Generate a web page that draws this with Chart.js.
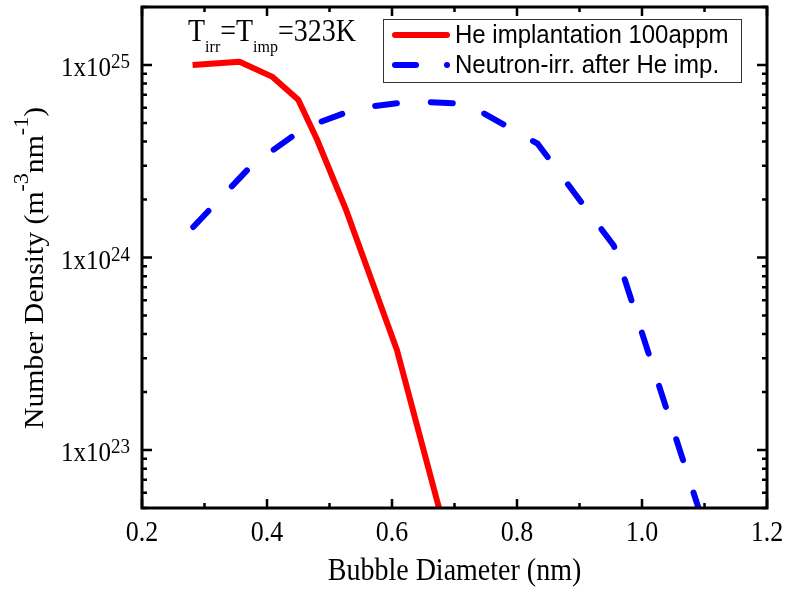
<!DOCTYPE html>
<html>
<head>
<meta charset="utf-8">
<script src="https://cdn.jsdelivr.net/npm/chart.js@4.4.1/dist/chart.umd.min.js"></script>
<style>
  body { margin: 0; background: #fff; }
  #wrap { width: 785px; height: 590px; }
</style>
</head>
<body>
<div id="wrap"><canvas id="chart" width="785" height="590"></canvas></div>
<script>
// data
const heDiameter = [0.281, 0.356, 0.408, 0.450, 0.480, 0.527, 0.608, 0.690];
const heDensity = [1.00e25, 1.04e25, 8.7e24, 6.6e24, 4.1e24, 1.75e24, 3.3e23, 3.3e22];

const nDiameter = [0.282, 0.376, 0.460, 0.546, 0.632, 0.720, 0.833, 0.955, 1.100];
const nDensity = [1.44e24, 3.02e24, 4.72e24, 5.97e24, 6.47e24, 6.28e24, 3.9e24, 1.15e24, 4.0e22];

const seriesLabels = ['He implantation 100appm', 'Neutron-irr. after He imp.'];

const xMajorTicks = [0.2, 0.4, 0.6, 0.8, 1.0, 1.2];
const xTickLabels = ['0.2', '0.4', '0.6', '0.8', '1.0', '1.2'];
const xMinorTicks = [0.3, 0.5, 0.7, 0.9, 1.1];
const yMajorTicks = [1e23, 1e24, 1e25];
const yTickExponents = ['23', '24', '25'];

const X_MIN = 0.2, X_MAX = 1.2;
const Y_MIN = 5e22, Y_MAX = 2e25;

const SERIF = "'Liberation Serif', 'Times New Roman', serif";
const SANS = "'Liberation Sans', Arial, sans-serif";
const SY = 1.1; // the original figure is a bit stretched vertically

function toPoints(xs, ys) {
  return xs.map((x, i) => ({ x: x, y: ys[i] }));
}

function yMinorTicks() {
  const out = [];
  for (let n = 22; n <= 25; n++) {
    for (let k = 2; k <= 9; k++) {
      const v = k * Math.pow(10, n);
      if (v >= Y_MIN && v <= Y_MAX) out.push(v);
    }
  }
  return out;
}

// draw text with the vertical stretch, baseline at (x, y)
function txt(ctx, s, x, y, font, align) {
  ctx.save();
  ctx.translate(x, y);
  ctx.scale(1, SY);
  ctx.font = font;
  ctx.textAlign = align || 'left';
  ctx.textBaseline = 'alphabetic';
  ctx.fillText(s, 0, 0);
  ctx.restore();
}

function measure(ctx, s, font) {
  ctx.font = font;
  return ctx.measureText(s).width;
}

const axesPlugin = {
  id: 'originAxes',
  afterDraw(chart) {
    const ctx = chart.ctx;
    const xs = chart.scales.x, ys = chart.scales.y;
    const a = chart.chartArea;
    ctx.save();
    ctx.fillStyle = '#000';
    ctx.strokeStyle = '#000';

    // ticks (inward, on all four sides)
    ctx.lineWidth = 2.5;
    ctx.beginPath();
    xMajorTicks.forEach(v => {
      const px = xs.getPixelForValue(v);
      ctx.moveTo(px, a.bottom); ctx.lineTo(px, a.bottom - 9);
      ctx.moveTo(px, a.top); ctx.lineTo(px, a.top + 9);
    });
    xMinorTicks.forEach(v => {
      const px = xs.getPixelForValue(v);
      ctx.moveTo(px, a.bottom); ctx.lineTo(px, a.bottom - 5);
      ctx.moveTo(px, a.top); ctx.lineTo(px, a.top + 5);
    });
    yMajorTicks.forEach(v => {
      const py = ys.getPixelForValue(v);
      ctx.moveTo(a.left, py); ctx.lineTo(a.left + 10, py);
      ctx.moveTo(a.right, py); ctx.lineTo(a.right - 10, py);
    });
    yMinorTicks().forEach(v => {
      const py = ys.getPixelForValue(v);
      ctx.moveTo(a.left, py); ctx.lineTo(a.left + 5, py);
      ctx.moveTo(a.right, py); ctx.lineTo(a.right - 5, py);
    });
    ctx.stroke();

    // frame
    ctx.lineWidth = 3;
    ctx.strokeRect(a.left, a.top, a.right - a.left, a.bottom - a.top);

    // x tick labels
    const tickFont = '26px ' + SERIF;
    xMajorTicks.forEach((v, i) => {
      txt(ctx, xTickLabels[i], xs.getPixelForValue(v), a.bottom + 33, tickFont, 'center');
    });

    // y tick labels 1x10^n
    const mainFont = '25px ' + SERIF, supFont = '19px ' + SERIF;
    yMajorTicks.forEach((v, i) => {
      const py = ys.getPixelForValue(v);
      const w1 = measure(ctx, '1x10', mainFont);
      const w2 = measure(ctx, yTickExponents[i], supFont);
      const x0 = a.left - 12 - w1 - w2;
      txt(ctx, '1x10', x0, py + 11, mainFont);
      txt(ctx, yTickExponents[i], x0 + w1, py + 3, supFont);
    });

    // x title
    txt(ctx, 'Bubble Diameter (nm)', (a.left + a.right) / 2, 580, '28px ' + SERIF, 'center');

    // y title, rotated, with superscripts
    const tf = '27px ' + SERIF, sf = '20px ' + SERIF;
    const runs = [
      ['Number Density (m', tf, 0], ['-3', sf, -15],
      ['nm', tf, 0], ['-1', sf, -15], [')', tf, 0]
    ];
    let total = 0;
    runs.forEach(r => { r.w = measure(ctx, r[0], r[1]); total += r.w; });
    ctx.save();
    ctx.translate(43, 268);
    ctx.rotate(-Math.PI / 2);
    ctx.scale(SY, 1);
    ctx.textBaseline = 'alphabetic';
    ctx.textAlign = 'left';
    let cx = -total / 2;
    runs.forEach(r => {
      ctx.font = r[1];
      ctx.fillText(r[0], cx, r[2]);
      cx += r.w;
    });
    ctx.restore();

    // annotation T_irr = T_imp = 323K
    const af = '28px ' + SERIF, bf = '16px ' + SERIF;
    const parts = [
      ['T', af, 0], ['irr', bf, 11], ['=T', af, 0], ['imp', bf, 11], ['=323K', af, 0]
    ];
    let ax = 188;
    parts.forEach(p => {
      txt(ctx, p[0], ax, 41 + p[2], p[1]);
      ax += measure(ctx, p[0], p[1]);
    });

    // legend
    const ds = chart.data.datasets;
    ctx.fillStyle = '#fff';
    ctx.fillRect(383, 19, 358, 63);
    ctx.lineWidth = 1;
    ctx.strokeStyle = '#333';
    ctx.strokeRect(383.5, 19.5, 358, 63);
    ctx.lineCap = 'round';
    ctx.lineWidth = 6;
    ctx.strokeStyle = ds[0].borderColor;
    ctx.beginPath(); ctx.moveTo(395, 35); ctx.lineTo(447, 35); ctx.stroke();
    ctx.strokeStyle = ds[1].borderColor;
    ctx.beginPath(); ctx.moveTo(395, 65); ctx.lineTo(416, 65); ctx.stroke();
    ctx.fillStyle = ds[1].borderColor;
    ctx.beginPath(); ctx.arc(447, 65, 3, 0, Math.PI * 2); ctx.fill();
    ctx.fillStyle = '#000';
    txt(ctx, ds[0].label, 455, 43, '24px ' + SANS);
    txt(ctx, ds[1].label, 455, 73, '24px ' + SANS);

    ctx.restore();
  }
};

new Chart(document.getElementById('chart'), {
  type: 'line',
  data: {
    datasets: [{
      label: seriesLabels[0],
      data: toPoints(heDiameter, heDensity),
      borderColor: 'rgb(255, 0, 0)',
      borderWidth: 6,
      borderJoinStyle: 'round',
      pointRadius: 0,
      fill: false,
      tension: 0
    }, {
      label: seriesLabels[1],
      data: toPoints(nDiameter, nDensity),
      borderColor: 'rgb(0, 0, 255)',
      borderWidth: 6,
      borderDash: [22, 34],
      borderCapStyle: 'round',
      borderJoinStyle: 'round',
      pointRadius: 0,
      fill: false,
      tension: 0
    }]
  },
  options: {
    responsive: false,
    animation: false,
    layout: { padding: { left: 142, top: 7, right: 18, bottom: 82 } },
    plugins: { legend: { display: false }, tooltip: { enabled: false } },
    scales: {
      x: { type: 'linear', min: X_MIN, max: X_MAX, display: false },
      y: { type: 'logarithmic', min: Y_MIN, max: Y_MAX, display: false }
    }
  },
  plugins: [axesPlugin]
});
</script>
</body>
</html>
